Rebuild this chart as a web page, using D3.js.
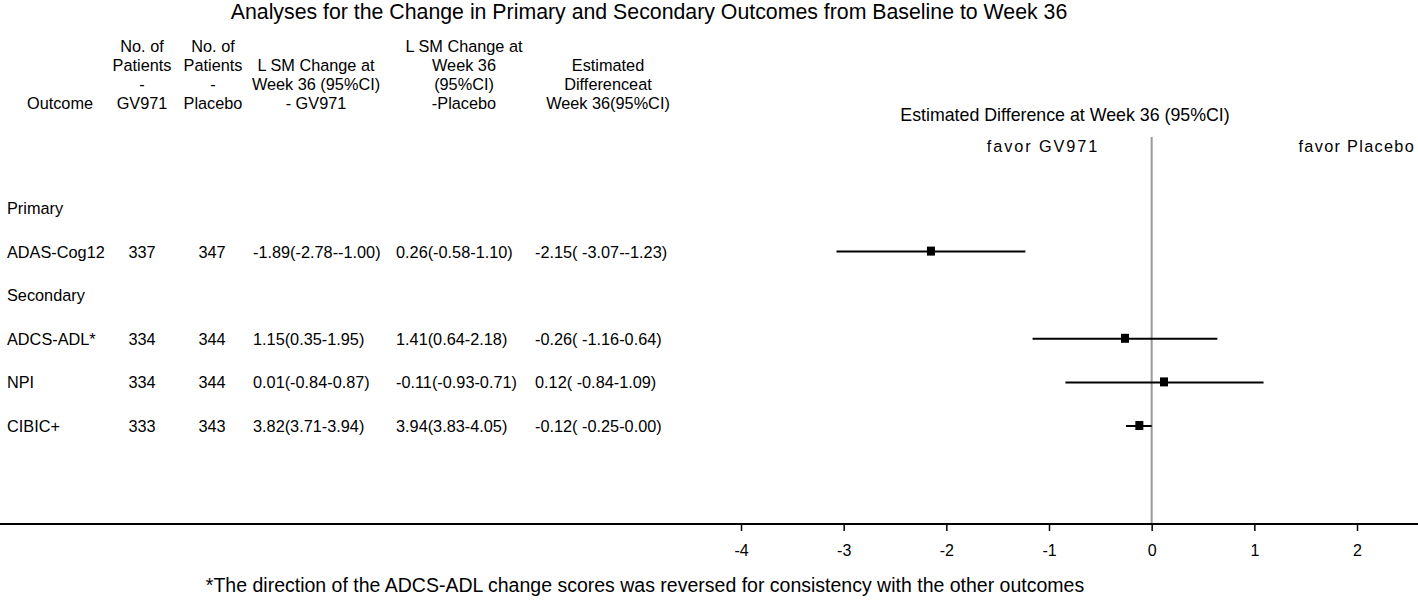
<!DOCTYPE html>
<html><head><meta charset="utf-8">
<script src="https://cdn.jsdelivr.net/npm/d3@7"></script>
<style>body{margin:0;background:#fff}svg{display:block;font-family:"Liberation Sans",Arial,sans-serif}</style>
</head><body><svg id="c" width="1418" height="600"></svg>
<script>
const title = "Analyses for the Change in Primary and Secondary Outcomes from Baseline to Week 36";
const headers = [
  ["Outcome"],
  ["No. of", "Patients", "-", "GV971"],
  ["No. of", "Patients", "-", "Placebo"],
  ["L SM Change at", "Week 36 (95%CI)", "- GV971"],
  ["L SM Change at", "Week 36", "(95%CI)", "-Placebo"],
  ["Estimated", "Differenceat", "Week 36(95%CI)"]
];
const rowLabels = ["Primary", "ADAS-Cog12", "Secondary", "ADCS-ADL*", "NPI", "CIBIC+"];
const nGV971 = ["", "337", "", "334", "334", "333"];
const nPlacebo = ["", "347", "", "344", "344", "343"];
const lsmGV971 = ["", "-1.89(-2.78--1.00)", "", "1.15(0.35-1.95)", "0.01(-0.84-0.87)", "3.82(3.71-3.94)"];
const lsmPlacebo = ["", "0.26(-0.58-1.10)", "", "1.41(0.64-2.18)", "-0.11(-0.93-0.71)", "3.94(3.83-4.05)"];
const diffText = ["", "-2.15( -3.07--1.23)", "", "-0.26( -1.16-0.64)", "0.12( -0.84-1.09)", "-0.12( -0.25-0.00)"];
const estimate = [null, -2.15, null, -0.26, 0.12, -0.12];
const lower = [null, -3.07, null, -1.16, -0.84, -0.25];
const upper = [null, -1.23, null, 0.64, 1.09, 0.00];
const tickValues = [-4, -3, -2, -1, 0, 1, 2];
const plotTitle = "Estimated Difference at Week 36 (95%CI)";
const favorLeft = "favor GV971";
const favorRight = "favor Placebo";
const footnote = "*The direction of the ADCS-ADL change scores was reversed for consistency with the other outcomes";

const svg = d3.select("#c");
const W = 1418;
const FS = 16.3;

svg.append("text").attr("x", 649).attr("y", 19).attr("text-anchor", "middle")
  .attr("font-size", 21.3).text(title);

// header columns (bottom-aligned)
const headerX = [60, 142, 213, 316, 464, 608];
const lineH = 19, headerBottom = 109;
headers.forEach((lines, i) => {
  const t = svg.append("text").attr("text-anchor", "middle").attr("font-size", FS);
  lines.forEach((ln, j) => {
    t.append("tspan").attr("x", headerX[i])
      .attr("y", headerBottom - (lines.length - 1 - j) * lineH).text(ln);
  });
});

const y = d3.scalePoint().domain(d3.range(rowLabels.length)).range([208, 426]);

const cols = [
  {data: rowLabels, x: 7, anchor: "start"},
  {data: nGV971, x: 142, anchor: "middle"},
  {data: nPlacebo, x: 212, anchor: "middle"},
  {data: lsmGV971, x: 253, anchor: "start"},
  {data: lsmPlacebo, x: 396, anchor: "start"},
  {data: diffText, x: 535, anchor: "start"}
];
cols.forEach(c => {
  svg.append("g").selectAll("text").data(c.data).join("text")
    .attr("x", c.x).attr("y", (d, i) => y(i) + 6)
    .attr("text-anchor", c.anchor).attr("font-size", FS).text(d => d);
});

// forest plot
const x = d3.scaleLinear().domain([-4, 2]).range([741, 1357]);
const axisY = 524;

svg.append("text").attr("x", 1065).attr("y", 121).attr("text-anchor", "middle")
  .attr("font-size", 17.8).text(plotTitle);
svg.append("text").attr("x", 1043).attr("y", 152).attr("text-anchor", "middle")
  .attr("font-size", FS).attr("letter-spacing", 1.9).text(favorLeft);
svg.append("text").attr("x", 1415).attr("y", 152).attr("text-anchor", "end")
  .attr("font-size", FS).attr("letter-spacing", 1.3).text(favorRight);

svg.append("line").attr("x1", x(0)).attr("x2", x(0)).attr("y1", 137).attr("y2", axisY)
  .attr("stroke", "#999").attr("stroke-width", 2);

const idx = d3.range(rowLabels.length).filter(i => estimate[i] !== null);
svg.append("g").selectAll("line").data(idx).join("line")
  .attr("x1", i => x(lower[i])).attr("x2", i => x(upper[i]))
  .attr("y1", i => y(i)).attr("y2", i => y(i))
  .attr("stroke", "#000").attr("stroke-width", 2);
svg.append("g").selectAll("rect").data(idx).join("rect")
  .attr("x", i => x(estimate[i]) - 4).attr("y", i => y(i) - 5)
  .attr("width", 8).attr("height", 9).attr("fill", "#000");

// axis
svg.append("line").attr("x1", 0).attr("x2", W).attr("y1", axisY).attr("y2", axisY)
  .attr("stroke", "#000").attr("stroke-width", 2);
const ax = svg.append("g").attr("transform", `translate(0,${axisY})`)
  .call(d3.axisBottom(x).tickValues(tickValues).tickSize(7).tickPadding(14).tickFormat(d => String(d)));
ax.select(".domain").remove();
ax.selectAll(".tick line").attr("stroke", "#000").attr("stroke-width", 1.5);
ax.selectAll(".tick text").attr("font-size", 16).attr("fill", "#000")
  .attr("font-family", "Liberation Sans, Arial, sans-serif");

svg.append("text").attr("x", 645).attr("y", 592).attr("text-anchor", "middle")
  .attr("font-size", 19.5).text(footnote);
</script></body></html>
